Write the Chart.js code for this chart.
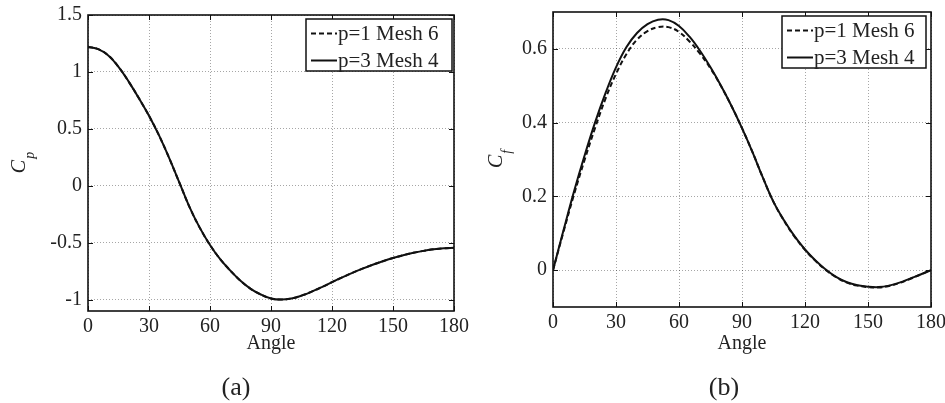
<!DOCTYPE html>
<html>
<head>
<meta charset="utf-8">
<title>Cp / Cf vs angle</title>
<script src="https://cdn.jsdelivr.net/npm/chart.js@4.4.0/dist/chart.umd.min.js"></script>
<style>
  body { margin: 0; background: #fff; }
  #wrap { position: relative; width: 945px; height: 403px; }
  canvas { position: absolute; top: 0; }
</style>
</head>
<body>
<div id="wrap">
  <canvas id="cpChart" width="472" height="403" style="left:0"></canvas>
  <canvas id="cfChart" width="473" height="403" style="left:472px"></canvas>
</div>
<script>
// Surface angle (degrees), sampled every 5
const angles = [0, 5, 10, 15, 20, 25, 30, 35, 40, 45, 50, 55, 60, 65, 70, 75, 80, 85, 90,
                95, 100, 105, 110, 115, 120, 125, 130, 135, 140, 145, 150, 155, 160, 165, 170, 175, 180];

const xTicks = [0, 30, 60, 90, 120, 150, 180];
const cpTicks = [-1, -0.5, 0, 0.5, 1, 1.5];
const cfTicks = [0, 0.2, 0.4, 0.6];
const seriesLabels = ['p=1 Mesh 6', 'p=3 Mesh 4'];

// pressure coefficient
const cpP1Mesh6 = [1.22, 1.20, 1.145, 1.045, 0.915, 0.77, 0.615, 0.44, 0.24, 0.025, -0.19, -0.37,
                   -0.52, -0.645, -0.745, -0.835, -0.905, -0.955, -0.99, -1.0, -0.99, -0.965, -0.93,
                   -0.89, -0.847, -0.805, -0.765, -0.728, -0.694, -0.663, -0.635, -0.61, -0.589,
                   -0.572, -0.558, -0.549, -0.545];
const cpP3Mesh4 = [1.22, 1.20, 1.145, 1.045, 0.915, 0.77, 0.615, 0.44, 0.24, 0.025, -0.19, -0.37,
                   -0.52, -0.645, -0.745, -0.835, -0.905, -0.955, -0.99, -1.0, -0.99, -0.965, -0.93,
                   -0.89, -0.847, -0.805, -0.765, -0.728, -0.694, -0.663, -0.635, -0.61, -0.589,
                   -0.572, -0.558, -0.549, -0.545];

// skin friction coefficient
const cfP1Mesh6 = [0, 0.104, 0.205, 0.298, 0.385, 0.465, 0.532, 0.586, 0.625, 0.648, 0.659, 0.659,
                   0.646, 0.620, 0.587, 0.547, 0.499, 0.445, 0.385, 0.32, 0.25, 0.185, 0.134, 0.091,
                   0.055, 0.025, 0.000, -0.020, -0.034, -0.042, -0.046, -0.047, -0.043, -0.035,
                   -0.024, -0.012, 0.0];
const cfP3Mesh4 = [0, 0.108, 0.213, 0.31, 0.40, 0.48, 0.55, 0.605, 0.643, 0.667, 0.679, 0.678,
                   0.662, 0.633, 0.595, 0.55, 0.50, 0.445, 0.385, 0.32, 0.25, 0.185, 0.135, 0.092,
                   0.056, 0.026, 0.001, -0.019, -0.033, -0.041, -0.045, -0.046, -0.042, -0.034,
                   -0.023, -0.012, 0.0];

const FONT = '"Liberation Serif", "DejaVu Serif", serif';
const tickFont = { family: FONT, size: 20 };
const inkColor = '#222';

// box, inward ticks, boxed legend, y title with subscript and the panel caption
const decor = {
  id: 'decor',
  afterDatasetsDraw(chart, args, opts) {
    const { ctx, chartArea: a } = chart;
    const sx = chart.scales.x, sy = chart.scales.y;
    ctx.save();

    ctx.strokeStyle = '#111';
    ctx.lineWidth = 1;
    ctx.beginPath();
    sx.ticks.forEach(t => {
      const px = Math.round(sx.getPixelForValue(t.value)) + 0.5;
      ctx.moveTo(px, a.bottom); ctx.lineTo(px, a.bottom - 5);
      ctx.moveTo(px, a.top); ctx.lineTo(px, a.top + 5);
    });
    sy.ticks.forEach(t => {
      const py = Math.round(sy.getPixelForValue(t.value)) + 0.5;
      ctx.moveTo(a.left, py); ctx.lineTo(a.left + 5, py);
      ctx.moveTo(a.right, py); ctx.lineTo(a.right - 5, py);
    });
    ctx.stroke();

    ctx.lineWidth = 1.6;
    ctx.strokeRect(a.left, a.top, a.width, a.height);

    // legend
    const lg = opts.legend;
    const bx = a.right - lg.inset[0] - lg.width;
    const by = a.top + lg.inset[1];
    ctx.fillStyle = '#fff';
    ctx.fillRect(bx, by, lg.width, lg.height);
    ctx.lineWidth = 1.5;
    ctx.strokeStyle = '#111';
    ctx.strokeRect(bx, by, lg.width, lg.height);
    ctx.font = '21px ' + FONT;
    ctx.textBaseline = 'middle';
    ctx.textAlign = 'left';
    chart.data.datasets.forEach((ds, i) => {
      const y = by + 14.5 + i * 27;
      ctx.setLineDash(ds.borderDash || []);
      ctx.lineWidth = ds.borderWidth;
      ctx.strokeStyle = ds.borderColor;
      ctx.beginPath();
      ctx.moveTo(bx + 5, y);
      ctx.lineTo(bx + 31, y);
      ctx.stroke();
      ctx.setLineDash([]);
      ctx.fillStyle = inkColor;
      ctx.fillText(ds.label, bx + 32, y + 1);
    });

    // rotated y title: C with italic subscript
    const t = opts.yTitle;
    ctx.translate(a.left - t.offset, (a.top + a.bottom) / 2);
    ctx.rotate(-Math.PI / 2);
    ctx.textBaseline = 'alphabetic';
    ctx.fillStyle = inkColor;
    ctx.font = 'italic 20px ' + FONT;
    const wMain = ctx.measureText(t.main).width;
    ctx.font = 'italic 14px ' + FONT;
    const wSub = ctx.measureText(t.sub).width;
    const x0 = -(wMain + wSub) / 2;
    ctx.font = 'italic 20px ' + FONT;
    ctx.fillText(t.main, x0, 0);
    ctx.font = 'italic 14px ' + FONT;
    ctx.fillText(t.sub, x0 + wMain + 1, 9);
    ctx.restore();

    // caption under the panel
    ctx.save();
    ctx.font = '26px ' + FONT;
    ctx.fillStyle = inkColor;
    ctx.textAlign = 'center';
    ctx.textBaseline = 'alphabetic';
    ctx.fillText(opts.caption.text, opts.caption.x, opts.caption.y);
    ctx.restore();
  }
};

function toPoints(values) {
  return angles.map((a, i) => ({ x: a, y: values[i] }));
}

function makeChart(id, cfg) {
  const datasets = [
    { label: seriesLabels[0], data: toPoints(cfg.p1), borderColor: '#111', borderWidth: 2, borderDash: [5, 3] },
    { label: seriesLabels[1], data: toPoints(cfg.p3), borderColor: '#111', borderWidth: 2 }
  ];
  return new Chart(document.getElementById(id), {
    type: 'line',
    data: { datasets: datasets },
    plugins: [decor],
    options: {
      responsive: false,
      animation: false,
      events: [],
      layout: { padding: cfg.padding },
      elements: {
        point: { radius: 0 },
        line: { tension: 0.4, fill: false }
      },
      plugins: {
        legend: { display: false },
        tooltip: { enabled: false },
        decor: { legend: cfg.legend, yTitle: cfg.yTitle, caption: cfg.caption }
      },
      scales: {
        x: {
          type: 'linear', min: 0, max: 180,
          afterBuildTicks: s => { s.ticks = xTicks.map(v => ({ value: v })); },
          afterFit: s => { s.height = cfg.xAxisHeight; s.paddingLeft = 0; s.paddingRight = 0; },
          grid: { color: 'rgba(0,0,0,0.35)', lineWidth: 1, drawTicks: false },
          border: { display: false, dash: [1, 2] },
          ticks: { padding: 4, color: inkColor, font: tickFont, maxRotation: 0, autoSkip: false,
                   callback: v => String(v) },
          title: { display: true, text: 'Angle', color: inkColor, font: tickFont, padding: 0 }
        },
        y: {
          type: 'linear', min: cfg.yMin, max: cfg.yMax,
          afterBuildTicks: s => { s.ticks = cfg.yTicks.map(v => ({ value: v })); },
          afterFit: s => { s.width = 60; s.paddingTop = 0; s.paddingBottom = 0; },
          grid: { color: 'rgba(0,0,0,0.35)', lineWidth: 1, drawTicks: false },
          border: { display: false, dash: [1, 2] },
          ticks: { padding: 6, color: inkColor, font: tickFont, autoSkip: false,
                   callback: v => String(v) }
        }
      }
    }
  });
}

makeChart('cpChart', {
  p1: cpP1Mesh6, p3: cpP3Mesh4,
  yMin: -1.1, yMax: 1.5, yTicks: cpTicks,
  padding: { left: 28, right: 18, top: 15, bottom: 47 },
  xAxisHeight: 45,
  legend: { width: 146, height: 52, inset: [2, 4] },
  yTitle: { main: 'C', sub: 'p', offset: 63 },
  caption: { text: '(a)', x: 236, y: 395 }
});

makeChart('cfChart', {
  p1: cfP1Mesh6, p3: cfP3Mesh4,
  yMin: -0.1, yMax: 0.7, yTicks: cfTicks,
  padding: { left: 21, right: 14, top: 12, bottom: 47 },
  xAxisHeight: 49,
  legend: { width: 144, height: 52, inset: [5, 4] },
  yTitle: { main: 'C', sub: 'f', offset: 51 },
  caption: { text: '(b)', x: 252, y: 395 }
});
</script>
</body>
</html>
